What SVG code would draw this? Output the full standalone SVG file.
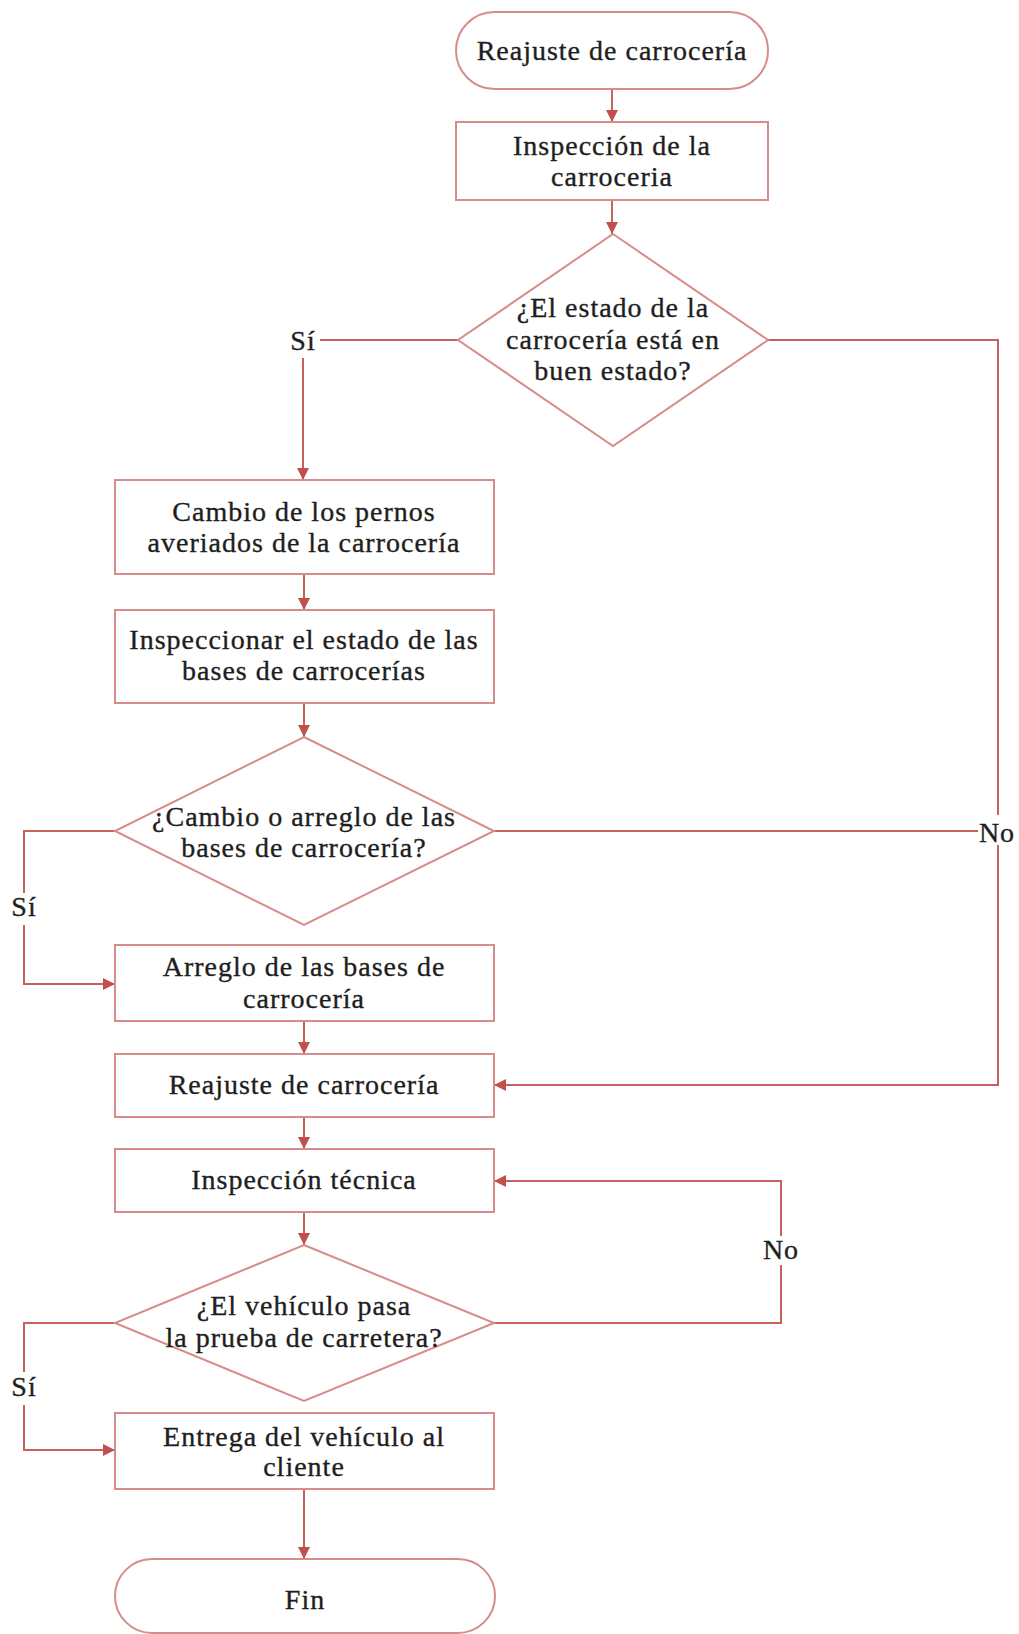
<svg xmlns="http://www.w3.org/2000/svg" width="1019" height="1634" viewBox="0 0 1019 1634">
<style>
.n{fill:#fff;stroke:#D68C8A;stroke-width:2}
.t{font-family:"Liberation Serif","Times New Roman",serif;font-size:28px;letter-spacing:1px;fill:#1e1e1e;stroke:#1e1e1e;stroke-width:0.35px;text-anchor:middle}
.c{fill:none;stroke:#C9605C;stroke-width:2}
.ca{fill:none;stroke:#C9605C;stroke-width:2;marker-end:url(#ah)}
</style>
<defs>
<marker id="ah" viewBox="0 0 10 10" refX="10" refY="5" markerWidth="12" markerHeight="12" markerUnits="userSpaceOnUse" orient="auto">
<path d="M0,0 L10,5 L0,10 z" fill="#C0504D"/>
</marker>
</defs>
<rect width="1019" height="1634" fill="#fff"/>
<g id="connectors">
<line class="ca" x1="612" y1="89" x2="612" y2="122"/>
<line class="ca" x1="612" y1="200" x2="612" y2="234"/>
<polyline class="c" points="458,340 320,340"/>
<polyline class="ca" points="303,358 303,480"/>
<polyline class="c" points="768,340 998,340 998,815"/>
<polyline class="ca" points="998,845 998,1085 494,1085"/>
<polyline class="c" points="494,831 978,831"/>
<line class="ca" x1="304" y1="574" x2="304" y2="610"/>
<line class="ca" x1="304" y1="703" x2="304" y2="737"/>
<polyline class="c" points="115,831 24,831 24,893"/>
<polyline class="ca" points="24,925 24,984 115,984"/>
<line class="ca" x1="304" y1="1021" x2="304" y2="1054"/>
<line class="ca" x1="304" y1="1117" x2="304" y2="1149"/>
<line class="ca" x1="304" y1="1212" x2="304" y2="1245"/>
<polyline class="c" points="494,1323 781,1323 781,1265"/>
<polyline class="ca" points="781,1236 781,1181 494,1181"/>
<polyline class="c" points="115,1323 24,1323 24,1372"/>
<polyline class="ca" points="24,1405 24,1450 115,1450"/>
<line class="ca" x1="304" y1="1489" x2="304" y2="1559"/>
<text class="t" x="303" y="350">Sí</text>
<text class="t" x="997" y="842">No</text>
<text class="t" x="24" y="916">Sí</text>
<text class="t" x="781" y="1259">No</text>
<text class="t" x="24" y="1396">Sí</text>
</g>
<g id="start">
<rect class="n" x="456" y="12" width="312" height="77" rx="38.5"/>
<text class="t" x="612" y="60">Reajuste de carrocería</text>
</g>
<g id="inspeccion">
<rect class="n" x="456" y="122" width="312" height="78"/>
<text class="t" x="612" y="155">Inspección de la</text>
<text class="t" x="612" y="186">carroceria</text>
</g>
<g id="decision1">
<polygon class="n" points="613,234 768,340 613,446 458,340"/>
<text class="t" x="613" y="317">¿El estado de la</text>
<text class="t" x="613" y="349">carrocería está en</text>
<text class="t" x="613" y="380">buen estado?</text>
</g>
<g id="cambio">
<rect class="n" x="115" y="480" width="379" height="94"/>
<text class="t" x="304" y="521">Cambio de los pernos</text>
<text class="t" x="304" y="552">averiados de la carrocería</text>
</g>
<g id="inspeccionar">
<rect class="n" x="115" y="610" width="379" height="93"/>
<text class="t" x="304" y="649">Inspeccionar el estado de las</text>
<text class="t" x="304" y="680">bases de carrocerías</text>
</g>
<g id="decision2">
<polygon class="n" points="304,737 494,831 304,925 115,831"/>
<text class="t" x="304" y="826">¿Cambio o arreglo de las</text>
<text class="t" x="304" y="857">bases de carrocería?</text>
</g>
<g id="arreglo">
<rect class="n" x="115" y="945" width="379" height="76"/>
<text class="t" x="304" y="976">Arreglo de las bases de</text>
<text class="t" x="304" y="1008">carrocería</text>
</g>
<g id="reajuste">
<rect class="n" x="115" y="1054" width="379" height="63"/>
<text class="t" x="304" y="1094">Reajuste de carrocería</text>
</g>
<g id="tecnica">
<rect class="n" x="115" y="1149" width="379" height="63"/>
<text class="t" x="304" y="1189">Inspección técnica</text>
</g>
<g id="decision3">
<polygon class="n" points="304,1245 494,1323 304,1401 115,1323"/>
<text class="t" x="304" y="1315">¿El vehículo pasa</text>
<text class="t" x="304" y="1347">la prueba de carretera?</text>
</g>
<g id="entrega">
<rect class="n" x="115" y="1413" width="379" height="76"/>
<text class="t" x="304" y="1446">Entrega del vehículo al</text>
<text class="t" x="304" y="1476">cliente</text>
</g>
<g id="fin">
<rect class="n" x="115" y="1559" width="380" height="74" rx="37"/>
<text class="t" x="305" y="1609">Fin</text>
</g>
</svg>
